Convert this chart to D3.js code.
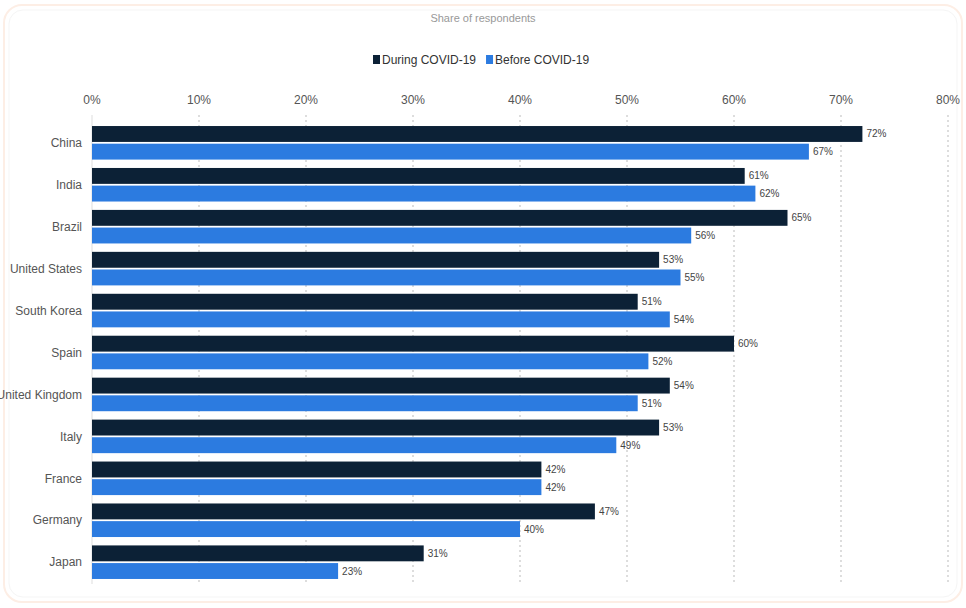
<!DOCTYPE html>
<html>
<head>
  <meta charset="utf-8">
  <title>Share of respondents</title>
  <script src="https://d3js.org/d3.v7.min.js"></script>
  <style>
    body { margin: 0; background: #fff; }
    text { font-family: "Liberation Sans", Arial, sans-serif; }
    .grid line { stroke: #bbb; stroke-dasharray: 2,3; }
    .tick-label { font-size: 12px; fill: #555; }
    .cat-label { font-size: 12px; fill: #555; }
    .val-label { font-size: 10px; fill: #444; }
  </style>
</head>
<body>
  <svg width="966" height="608"></svg>
  <script>
    const width = 966;
    const height = 608;

    // data
    const countries = ["China", "India", "Brazil", "United States", "South Korea", "Spain",
      "United Kingdom", "Italy", "France", "Germany", "Japan"];
    const during = [72, 61, 65, 53, 51, 60, 54, 53, 42, 47, 31];
    const before = [67, 62, 56, 55, 54, 52, 51, 49, 42, 40, 23];
    const seriesNames = ["During COVID-19", "Before COVID-19"];
    const seriesColors = ["#0c2136", "#2c7be0"];
    const xTicks = [0, 10, 20, 30, 40, 50, 60, 70, 80];

    const svg = d3.select("svg")
      .attr("width", width)
      .attr("height", height);

    // card frame (faint)
    svg.append("rect")
      .attr("x", 4).attr("y", 5)
      .attr("width", 958).attr("height", 597)
      .attr("rx", 18)
      .attr("fill", "#fff")
      .attr("stroke", "#fdeee5")
      .attr("stroke-width", 2);
    svg.append("rect")
      .attr("x", 9).attr("y", 10)
      .attr("width", 948).attr("height", 587)
      .attr("rx", 14)
      .attr("fill", "none")
      .attr("stroke", "#f5f5f5")
      .attr("stroke-width", 1);

    svg.append("text")
      .attr("x", 483).attr("y", 22)
      .attr("text-anchor", "middle")
      .attr("font-size", "11px")
      .attr("fill", "#999")
      .text("Share of respondents");

    // scales
    const x = d3.scaleLinear().domain([0, 80]).range([92, 948]);
    const y = d3.scaleBand().domain(countries).range([121, 584])
      .paddingInner(0.2).paddingOuter(0.12);
    const ySub = d3.scaleBand().domain(seriesNames).range([0, y.bandwidth()]).paddingInner(0.1);

    // legend
    const legend = svg.append("g").attr("transform", "translate(373,60)");
    let lx = 0;
    seriesNames.forEach((name, i) => {
      const g = legend.append("g").attr("transform", `translate(${lx},0)`);
      g.append("rect").attr("x", 0).attr("y", -5).attr("width", 7).attr("height", 9)
        .attr("fill", seriesColors[i]);
      const t = g.append("text").attr("x", 9).attr("y", 4)
        .attr("font-size", "12px").attr("fill", "#333").text(name);
      lx += 9 + t.node().getComputedTextLength() + 10;
    });

    // gridlines
    svg.append("g")
      .attr("class", "grid")
      .selectAll("line")
      .data(xTicks.filter(d => d > 0))
      .join("line")
      .attr("x1", d => x(d)).attr("x2", d => x(d))
      .attr("y1", 115).attr("y2", 584);

    // left axis line
    svg.append("line")
      .attr("x1", x(0)).attr("x2", x(0))
      .attr("y1", 115).attr("y2", 584)
      .attr("stroke", "#ddd");

    // top tick labels
    svg.append("g")
      .selectAll("text")
      .data(xTicks)
      .join("text")
      .attr("class", "tick-label")
      .attr("x", d => x(d))
      .attr("y", 104)
      .attr("text-anchor", "middle")
      .text(d => d + "%");

    // category labels
    svg.append("g")
      .selectAll("text")
      .data(countries)
      .join("text")
      .attr("class", "cat-label")
      .attr("x", 82)
      .attr("y", d => y(d) + y.bandwidth() / 2)
      .attr("dy", "0.35em")
      .attr("text-anchor", "end")
      .text(d => d);

    // bars
    const rows = countries.map((c, i) => ({ country: c, values: [during[i], before[i]] }));
    const groups = svg.append("g")
      .selectAll("g")
      .data(rows)
      .join("g")
      .attr("transform", d => `translate(0,${y(d.country)})`);

    groups.selectAll("rect")
      .data(d => d.values.map((v, i) => ({ name: seriesNames[i], value: v, i })))
      .join("rect")
      .attr("x", x(0))
      .attr("y", d => ySub(d.name))
      .attr("width", d => x(d.value) - x(0))
      .attr("height", ySub.bandwidth())
      .attr("fill", d => seriesColors[d.i]);

    groups.selectAll("text")
      .data(d => d.values.map((v, i) => ({ name: seriesNames[i], value: v })))
      .join("text")
      .attr("class", "val-label")
      .attr("x", d => x(d.value) + 4)
      .attr("y", d => ySub(d.name) + ySub.bandwidth() / 2)
      .attr("dy", "0.35em")
      .text(d => d.value + "%");
  </script>
</body>
</html>
